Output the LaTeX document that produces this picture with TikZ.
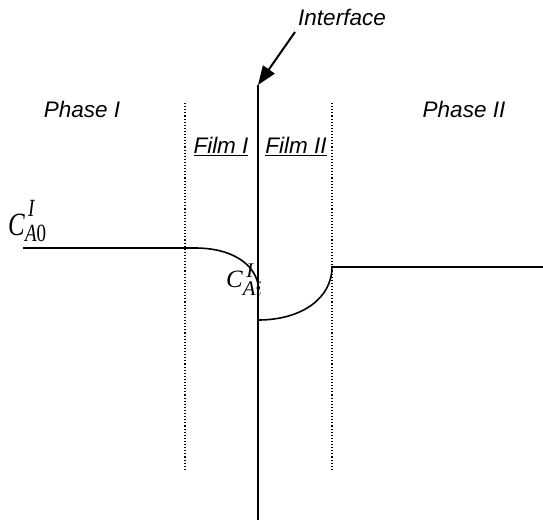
\documentclass[tikz,border=0pt]{standalone}
\usepackage{amsmath}
\usepackage{fontspec}
\setmainfont{Liberation Serif}
\setsansfont{Liberation Sans}
\usetikzlibrary{arrows.meta,positioning}
\tikzset{
  sidelabel/.style={font=\sffamily\itshape\fontsize{22.5}{26}\selectfont,inner sep=0pt,anchor=base},
  filmlabel/.style={font=\sffamily\itshape\fontsize{22.5}{26}\selectfont,inner sep=0pt,anchor=base},
  conclabel/.style={font=\fontsize{24.88}{30}\selectfont,inner sep=0pt,anchor=base west},
  wall/.style={line width=1.8pt},
  filmedge/.style={line width=1.1pt,dotted},
  profile/.style={line width=1.6pt},
  pointer/.style={-{Triangle[length=19pt,width=14pt]},line width=2pt}
}
\begin{document}
\begin{tikzpicture}[x=1pt,y=-1pt]
  \useasboundingbox (0,0) rectangle (543,520);

  % interface and film edges
  \coordinate (top) at (258,85);
  \coordinate (bot) at (258,520);
  \draw[wall] (top) -- (bot);
  \draw[filmedge] (185,103) -- (185,470);
  \draw[filmedge] (332,103) -- (332,470);

  % Labels
  \node[sidelabel] (intf) at (342,25)  {Interface};
  \node[sidelabel] (ph1)  at (82,117)  {Phase I};
  \node[sidelabel] (ph2)  at (464,117) {Phase II};
  \node[filmlabel] (f1)   at (221,153) {\underline{Film I}};
  \node[filmlabel] (f2)   at (296,153) {\underline{Film II}};
  \coordinate (tail) at (295,32);
  \draw[pointer] (tail) -- (top);

  % concentration profiles
  \draw[profile] (23,248) -- (195,248)
    .. controls (232,248) and (254,264) .. (258,284);
  \draw[profile] (258,320) .. controls (302,320) and (332,298) .. (332,267)
    -- (543,267);

  \node[conclabel] (ca0) at (8,235)
    {\scalebox{1}[1.3]{\textit{C}\rlap{\raisebox{14pt}{\fontsize{19}{22}\selectfont\,\textit{I}}}%
      \raisebox{-5pt}{\fontsize{19}{22}\selectfont\textit{A}0}}};
  \node[conclabel] (cai) at (226,287)
    {$\textit{C}^{\,\textit{I}}_{\textit{A}i}$};
\end{tikzpicture}
\end{document}
